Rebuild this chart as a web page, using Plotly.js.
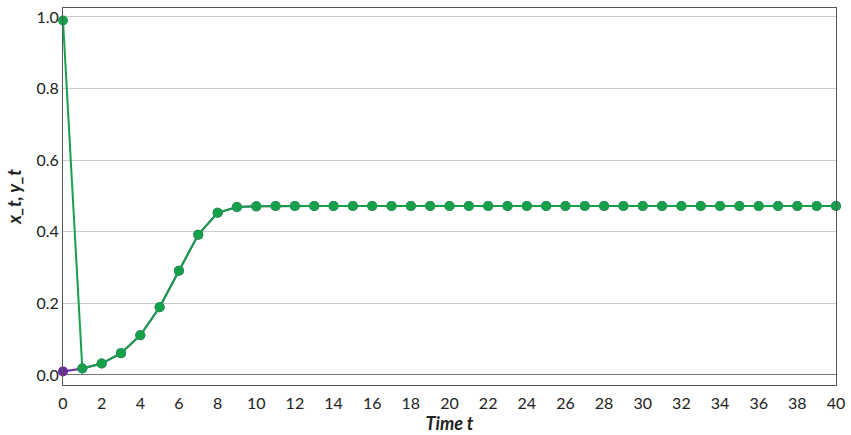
<!DOCTYPE html>
<html>
<head>
<meta charset="utf-8">
<script src="https://cdn.plot.ly/plotly-3.0.1.min.js"></script>
<style>html,body{margin:0;padding:0;background:#fff;}#chart{width:851px;height:435px;}</style>
</head>
<body>
<div id="chart"></div>
<script>
const timeSteps = [0,1,2,3,4,5,6,7,8,9,10,11,12,13,14,15,16,17,18,19,20,21,22,23,24,25,26,27,28,29,30,31,32,33,34,35,36,37,38,39,40];
const xValues = [0.01,0.018,0.032,0.061,0.111,0.189,0.291,0.392,0.453,0.469,0.471,0.472,0.472,0.472,0.472,0.472,0.472,0.472,0.472,0.472,0.472,0.472,0.472,0.472,0.472,0.472,0.472,0.472,0.472,0.472,0.472,0.472,0.472,0.472,0.472,0.472,0.472,0.472,0.472,0.472,0.472];
const yValues = [0.99,0.018,0.032,0.061,0.111,0.189,0.291,0.392,0.453,0.469,0.471,0.472,0.472,0.472,0.472,0.472,0.472,0.472,0.472,0.472,0.472,0.472,0.472,0.472,0.472,0.472,0.472,0.472,0.472,0.472,0.472,0.472,0.472,0.472,0.472,0.472,0.472,0.472,0.472,0.472,0.472];
const xTickVals = [0,2,4,6,8,10,12,14,16,18,20,22,24,26,28,30,32,34,36,38,40];
const yTickVals = [0.0,0.2,0.4,0.6,0.8,1.0];

const traces = [
  {x: timeSteps, y: xValues, name: 'x_t', mode: 'lines+markers', type: 'scatter',
   line: {color: '#6a2c9a', width: 2}, marker: {color: '#6a2c9a', size: 10}, cliponaxis: false},
  {x: timeSteps, y: yValues, name: 'y_t', mode: 'lines+markers', type: 'scatter',
   line: {color: '#16a04a', width: 2}, marker: {color: '#16a04a', size: 10}, cliponaxis: false}
];
const family = 'Lato, "Open Sans", sans-serif';
const tickFont = {family: family, size: 16, color: '#222'};
const titleFont = {family: family, size: 18, color: '#222', weight: 'bold', style: 'italic'};
const layout = {
  width: 851, height: 435,
  margin: {l: 63, r: 15, t: 8, b: 50},
  paper_bgcolor: '#fff', plot_bgcolor: '#fff',
  showlegend: false,
  font: tickFont,
  xaxis: {
    range: [0, 40], tickvals: xTickVals, showgrid: false, zeroline: false,
    showline: true, linecolor: '#555', linewidth: 1, mirror: true,
    ticks: 'outside', ticklen: 4, tickcolor: 'rgba(0,0,0,0)',
    tickfont: tickFont,
    title: {text: 'Time t', font: titleFont, standoff: 5}
  },
  yaxis: {
    range: [-0.028, 1.025], tickvals: yTickVals, tickformat: '.1f',
    showgrid: true, gridcolor: '#cccccc', gridwidth: 1,
    zeroline: true, zerolinecolor: '#777', zerolinewidth: 1,
    showline: true, linecolor: '#555', linewidth: 1, mirror: true, ticks: '',
    tickfont: tickFont,
    title: {text: 'x_t, y_t', font: titleFont, standoff: 10}
  }
};
Plotly.newPlot('chart', traces, layout, {displayModeBar: false, staticPlot: true});
</script>
</body>
</html>
